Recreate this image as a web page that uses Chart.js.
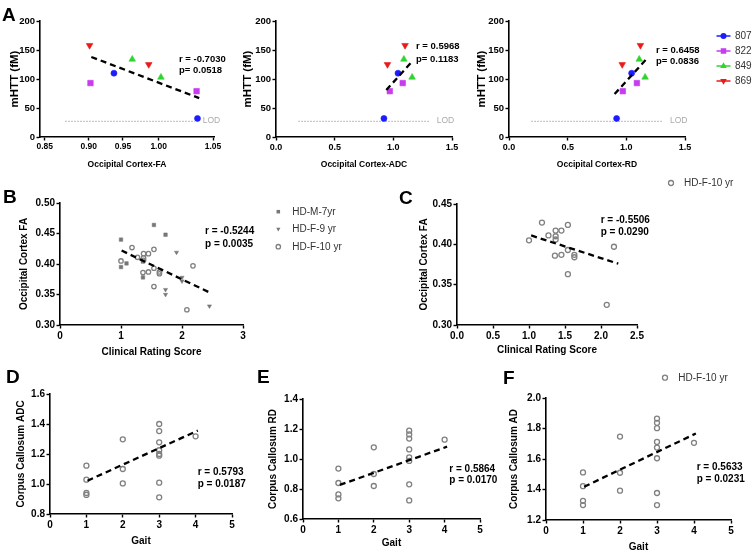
<!DOCTYPE html>
<html><head><meta charset="utf-8">
<script src="https://cdn.jsdelivr.net/npm/chart.js@4.4.0/dist/chart.umd.min.js"></script>
<style>
html,body{margin:0;padding:0;background:#fff;}
#wrap{position:relative;width:753px;height:553px;overflow:hidden;background:#fff;}
canvas{position:absolute;left:0;top:0;}
.t{position:absolute;font-family:Arial,"Liberation Sans",Helvetica,sans-serif;white-space:nowrap;color:#000;}
.let{font-weight:bold;font-size:19px;line-height:19px;}
.ann{font-weight:bold;font-size:10px;line-height:12px;}
.annA{font-weight:bold;font-size:9.5px;line-height:12px;}
.leg{font-size:10px;line-height:12px;color:#333;}
.lod{font-size:8.5px;line-height:10px;color:#aaa;}
</style></head><body><div id="wrap"></div>
<script>
// ---------------- DATA ----------------
const animals = ['807','822','849','869'];
const mhtt807 = [110, 32],  fa807 = [0.935, 1.031], adc807 = [1.04, 0.92], rd807 = [1.045, 0.917];
const mhtt822 = [93, 79],   fa822 = [0.908, 1.030], adc822 = [1.08, 0.97], rd822 = [1.09, 0.97];
const mhtt849 = [134, 103], fa849 = [0.956, 0.989], adc849 = [1.09, 1.16], rd849 = [1.11, 1.16];
const mhtt869 = [158, 125], fa869 = [0.907, 0.975], adc869 = [1.10, 0.95], rd869 = [1.12, 0.965];
const lodValue = 27;
const lodFA = [0.879, 1.028], lodADC = [0.19, 1.31], lodRD = [0.19, 1.31];
const fitFAx = [0.909, 1.033],  fitFAy = [138, 67];
const fitADCx = [0.94, 1.155],  fitADCy = [81, 129];
const fitRDx = [0.90, 1.17],    fitRDy = [74, 134];

// Panel B / C : clinical rating score vs occipital cortex FA
const crsM7 = [1.0, 1.0, 1.09, 1.54, 1.73, 1.36, 1.36];
const faM7  = [0.440, 0.395, 0.401, 0.464, 0.448, 0.378, 0.404];
const crsF9 = [1.91, 1.73, 1.73, 2.0, 2.0, 2.45];
const faF9  = [0.419, 0.358, 0.350, 0.378, 0.372, 0.331];
const crsF10 = [1.0, 1.18, 1.27, 1.37, 1.37, 1.37, 1.45, 1.54, 1.36, 1.45, 1.54, 1.63, 1.63, 1.54, 2.18, 2.08];
const faF10  = [0.405, 0.427, 0.411, 0.417, 0.410, 0.406, 0.417, 0.424, 0.386, 0.387, 0.393, 0.387, 0.384, 0.363, 0.397, 0.325];
const fitBx = [1.01, 2.48], fitBy = [0.422, 0.352];
const fitCx = [1.03, 2.24], fitCy = [0.411, 0.376];

// Panels D/E/F : gait vs corpus callosum
const gaitD = [1,1,1,1, 2,2,2, 3,3,3,3,3,3,3,3, 4];
const ccADC = [1.122,1.029,0.940,0.927, 1.298,1.100,1.004, 1.400,1.353,1.278,1.225,1.200,1.189,1.009,0.911, 1.318];
const gaitE = [1,1,1,1, 2,2,2, 3,3,3,3,3,3,3,3, 4];
const ccRD  = [0.936,0.840,0.764,0.738, 1.078,0.900,0.820, 1.189,1.164,1.136,1.064,1.011,0.987,0.831,0.724, 1.129];
const gaitF = [1,1,1,1, 2,2,2, 3,3,3,3,3,3,3,3, 4];
const ccAD  = [1.512,1.422,1.326,1.298, 1.747,1.510,1.392, 1.865,1.837,1.802,1.712,1.675,1.605,1.377,1.298, 1.706];
const fitDx = [1.03, 4.06], fitDy = [1.022, 1.356];
const fitEx = [1.04, 4.07], fitEy = [0.827, 1.082];
const fitFx = [1.03, 4.05], fitFy = [1.418, 1.767];

// tick labels
const ticksHTT = [0, 50, 100, 150, 200];
const ticksFA = ['0.85', '0.90', '0.95', '1.00', '1.05'];
const ticksFAat = [0.8554, 0.906, 0.9454, 0.9864, 1.0489];   // where the reference prints those labels
const ticksDiff = [0, 0.5, 1.0, 1.5];
const ticksBy = [0.30, 0.35, 0.40, 0.45, 0.50];
const ticksBx = [0, 1, 2, 3];
const ticksCy = [0.30, 0.35, 0.40, 0.45];
const ticksCx = [0, 0.5, 1.0, 1.5, 2.0, 2.5];
const ticksGait = [0, 1, 2, 3, 4, 5];
const ticksDy = [0.8, 1.0, 1.2, 1.4, 1.6];
const ticksEy = [0.6, 0.8, 1.0, 1.2, 1.4];
const ticksFy = [1.2, 1.4, 1.6, 1.8, 2.0];

// ---------------- STYLE ----------------
const FONT = 'Arial, "Liberation Sans", Helvetica, sans-serif';
const COL = {'807':'#1c1cff','822':'#c63cf0','849':'#2fd42f','869':'#e81a1a'};
const GRAY = '#808080';
const wrap = document.getElementById('wrap');

function pts(xs, ys){ return xs.map((x,i)=>({x:x, y:ys[i]})); }
function fitSet(xs, ys){
  return {data:pts(xs,ys), showLine:true, borderColor:'#000', borderWidth:2.3, borderDash:[6,4],
          pointRadius:0, fill:false, order:0};
}
function lodSet(xs){
  return {data:pts(xs,[lodValue,lodValue]), showLine:true, borderColor:'#b8b8b8', borderWidth:1.2,
          borderDash:[1.5,1.5], pointRadius:0, fill:false, order:2};
}
const shape = {
  '807':{pointStyle:'circle', pointRadius:3, pointRotation:0},
  '822':{pointStyle:'rect', pointRadius:3.9, pointRotation:0},
  '849':{pointStyle:'triangle', pointRadius:3.8, pointRotation:0},
  '869':{pointStyle:'triangle', pointRadius:3.8, pointRotation:180}
};
const animalX = {
  fa:{'807':fa807,'822':fa822,'849':fa849,'869':fa869},
  adc:{'807':adc807,'822':adc822,'849':adc849,'869':adc869},
  rd:{'807':rd807,'822':rd822,'849':rd849,'869':rd869}
};
const animalY = {'807':mhtt807,'822':mhtt822,'849':mhtt849,'869':mhtt869};
function animalSets(kind){
  return animals.map(a=>Object.assign({label:a, data:pts(animalX[kind][a], animalY[a]),
    backgroundColor:COL[a], borderColor:COL[a], pointBorderWidth:0.6, order:1}, shape[a]));
}
function hollow(xs, ys, r){
  return {data:pts(xs,ys), pointStyle:'circle', pointRadius:r, backgroundColor:'rgba(255,255,255,0)',
          borderColor:GRAY, pointBorderWidth:1.3, order:1};
}

function drawMarker(ctx, m){
  ctx.save();
  ctx.translate(m.x, m.y);
  ctx.rotate((m.rot||0)*Math.PI/180);
  ctx.beginPath();
  const r = m.r;
  if (m.style==='circle') ctx.arc(0,0,r,0,Math.PI*2);
  else if (m.style==='rect'){ const s=Math.SQRT1_2*r; ctx.rect(-s,-s,2*s,2*s); }
  else if (m.style==='triangle'){
    for (let k=0;k<3;k++){ const a=k*2*Math.PI/3; const px=Math.sin(a)*r, py=-Math.cos(a)*r; if(k===0)ctx.moveTo(px,py); else ctx.lineTo(px,py); }
    ctx.closePath();
  }
  if (m.fill){ ctx.fillStyle=m.fill; ctx.fill(); }
  if (m.stroke){ ctx.strokeStyle=m.stroke; ctx.lineWidth=m.bw||1; ctx.stroke(); }
  ctx.restore();
}
function legendPlugin(items){
  return {id:'legendMarks', afterDraw(chart){
    const ctx = chart.ctx;
    items.forEach(m=>{
      if (m.line){ ctx.save(); ctx.strokeStyle=m.line; ctx.lineWidth=1.5; ctx.beginPath(); ctx.moveTo(m.x-7,m.y); ctx.lineTo(m.x+7,m.y); ctx.stroke(); ctx.restore(); }
      drawMarker(ctx, m);
    });
  }};
}

function panel(o){
  const cv = document.createElement('canvas');
  cv.width = 753; cv.height = 553;
  cv.style.width = '753px'; cv.style.height = '553px';
  wrap.appendChild(cv);
  const lhY = o.yTitleSize*1.2, lhX = o.xTitleSize*1.2;
  const padL = o.yTitleX - lhY/2;
  const wy = o.L - padL;
  const hx = o.xTitleY + lhX/2 - o.B;
  const tickFont = {family:FONT, size:o.tickSize, weight:'bold'};
  const grid = {display:true, drawOnChartArea:false, drawTicks:true, tickLength:3.5, tickWidth:1.4, tickColor:'#000', color:'#000'};
  const border = {display:true, color:'#000', width:1.6};
  const xAt = o.xTickAt || o.xTicks;
  return new Chart(cv, {
    type:'scatter',
    data:{datasets:o.datasets},
    options:{
      responsive:false, animation:false, devicePixelRatio:1,
      layout:{padding:{left:padL, top:o.T, right:753-o.R, bottom:553-o.B-hx}},
      plugins:{legend:{display:false}, tooltip:{enabled:false}},
      scales:{
        x:{type:'linear', min:o.xMin, max:o.xMax,
           afterFit:s=>{s.height=hx;},
           afterBuildTicks:s=>{s.ticks=xAt.map(v=>({value:v}));},
           ticks:{font:{family:FONT, size:o.xTickSize||o.tickSize, weight:'bold'}, color:'#000', padding:1.5, autoSkip:false, maxRotation:0, minRotation:0,
                  callback:(v,i)=>o.xFmt(o.xTicks[i])},
           grid:grid, border:border,
           title:{display:true, text:o.xTitle, color:'#000', font:{family:FONT, size:o.xTitleSize, weight:'bold'}, padding:0}},
        y:{type:'linear', min:o.yMin, max:o.yMax,
           afterFit:s=>{s.width=wy;},
           afterBuildTicks:s=>{s.ticks=o.yTicks.map(v=>({value:v}));},
           ticks:{font:tickFont, color:'#000', padding:1.5, autoSkip:false, callback:(v)=>o.yFmt(v)},
           grid:grid, border:border,
           title:{display:true, text:o.yTitle, color:'#000', font:{family:FONT, size:o.yTitleSize, weight:'bold'}, padding:0}}
      }
    },
    plugins: o.legend ? [legendPlugin(o.legend)] : []
  });
}
const f0 = v=>String(Math.round(v));
const f1 = v=>v.toFixed(1);
const f2 = v=>v.toFixed(2);
const fs = v=>String(v);

// ---------------- PANEL A ----------------
panel({L:40, R:214, T:21, B:137, yTitleX:14.5, xTitleY:164.3, xMin:0.85, xMax:1.05, xTicks:ticksFA, xTickAt:ticksFAat, xFmt:fs,
  yMin:0, yMax:200, yTicks:ticksHTT, yFmt:f0, xTitle:'Occipital Cortex-FA', yTitle:'mHTT (fM)',
  xTitleSize:8.5, yTitleSize:11.5, tickSize:9.5, xTickSize:8.5,
  datasets:[fitSet(fitFAx,fitFAy), lodSet(lodFA)].concat(animalSets('fa'))});
panel({L:276, R:452, T:21, B:137, yTitleX:248, xTitleY:164.3, xMin:0, xMax:1.5, xTicks:ticksDiff, xFmt:f1,
  yMin:0, yMax:200, yTicks:ticksHTT, yFmt:f0, xTitle:'Occipital Cortex-ADC', yTitle:'mHTT (fM)',
  xTitleSize:8.5, yTitleSize:11.5, tickSize:9.5, xTickSize:9,
  datasets:[fitSet(fitADCx,fitADCy), lodSet(lodADC)].concat(animalSets('adc'))});
panel({L:509, R:685, T:21, B:137, yTitleX:482, xTitleY:165, xMin:0, xMax:1.5, xTicks:ticksDiff, xFmt:f1,
  yMin:0, yMax:200, yTicks:ticksHTT, yFmt:f0, xTitle:'Occipital Cortex-RD', yTitle:'mHTT (fM)',
  xTitleSize:8.5, yTitleSize:11.5, tickSize:9.5, xTickSize:9,
  datasets:[fitSet(fitRDx,fitRDy), lodSet(lodRD)].concat(animalSets('rd')),
  legend:[
    {x:723.5, y:36, style:'circle', r:3, fill:COL['807'], line:COL['807']},
    {x:723.5, y:51, style:'rect', r:3.9, fill:COL['822'], line:COL['822']},
    {x:723.5, y:66, style:'triangle', r:3.8, fill:COL['849'], line:COL['849']},
    {x:723.5, y:81, style:'triangle', r:3.8, rot:180, fill:COL['869'], line:COL['869']}
  ]});

// ---------------- PANEL B ----------------
panel({L:60, R:243, T:203, B:325, yTitleX:24.5, xTitleY:352.5, xMin:0, xMax:3, xTicks:ticksBx, xFmt:f0,
  yMin:0.30, yMax:0.50, yTicks:ticksBy, yFmt:f2, xTitle:'Clinical Rating Score', yTitle:'Occipital Cortex FA',
  xTitleSize:10, yTitleSize:10, tickSize:10,
  datasets:[fitSet(fitBx,fitBy),
    {data:pts(crsM7,faM7), pointStyle:'rect', pointRadius:2.5, backgroundColor:'#777', borderColor:'#777', pointBorderWidth:0.5, order:1},
    {data:pts(crsF9,faF9), pointStyle:'triangle', pointRotation:180, pointRadius:2.4, backgroundColor:'#777', borderColor:'#777', pointBorderWidth:0.5, order:1},
    hollow(crsF10, faF10, 2.2)],
  legend:[
    {x:278.3, y:211.7, style:'rect', r:2.5, fill:'#777'},
    {x:278.3, y:229, style:'triangle', r:2.4, rot:180, fill:'#777'},
    {x:278.3, y:246.7, style:'circle', r:2.2, stroke:GRAY, bw:1.3}
  ]});

// ---------------- PANEL C ----------------
panel({L:457, R:637, T:204, B:325, yTitleX:424, xTitleY:350, xMin:0, xMax:2.5, xTicks:ticksCx, xFmt:f1,
  yMin:0.30, yMax:0.45, yTicks:ticksCy, yFmt:f2, xTitle:'Clinical Rating Score', yTitle:'Occipital Cortex FA',
  xTitleSize:10, yTitleSize:10, tickSize:10,
  datasets:[fitSet(fitCx,fitCy), hollow(crsF10, faF10, 2.5)],
  legend:[{x:671, y:183, style:'circle', r:2.5, stroke:GRAY, bw:1.3}]});

// ---------------- PANELS D, E, F ----------------
panel({L:50, R:232, T:394, B:514, yTitleX:21, xTitleY:541.3, xMin:0, xMax:5, xTicks:ticksGait, xFmt:f0,
  yMin:0.8, yMax:1.6, yTicks:ticksDy, yFmt:f1, xTitle:'Gait', yTitle:'Corpus Callosum ADC',
  xTitleSize:10, yTitleSize:10, tickSize:10,
  datasets:[fitSet(fitDx,fitDy), hollow(gaitD, ccADC, 2.5)]});
panel({L:303, R:480, T:399, B:519, yTitleX:273.7, xTitleY:543, xMin:0, xMax:5, xTicks:ticksGait, xFmt:f0,
  yMin:0.6, yMax:1.4, yTicks:ticksEy, yFmt:f1, xTitle:'Gait', yTitle:'Corpus Callosum RD',
  xTitleSize:10, yTitleSize:10, tickSize:10,
  datasets:[fitSet(fitEx,fitEy), hollow(gaitE, ccRD, 2.5)]});
panel({L:546, R:731, T:398, B:520, yTitleX:514.5, xTitleY:547, xMin:0, xMax:5, xTicks:ticksGait, xFmt:f0,
  yMin:1.2, yMax:2.0, yTicks:ticksFy, yFmt:f1, xTitle:'Gait', yTitle:'Corpus Callosum AD',
  xTitleSize:10, yTitleSize:10, tickSize:10,
  datasets:[fitSet(fitFx,fitFy), hollow(gaitF, ccAD, 2.5)],
  legend:[{x:665, y:377.7, style:'circle', r:2.5, stroke:GRAY, bw:1.3}]});

// ---------------- TEXT ----------------
function txt(cls, s, left, top){
  const d = document.createElement('div'); d.className = 't '+cls; d.textContent = s;
  d.style.left = left+'px'; d.style.top = top+'px'; wrap.appendChild(d);
}
const letters = [['A',2,5],['B',3,187],['C',399,187.5],['D',6,367],['E',257,367],['F',503,367.5]];
letters.forEach(l=>txt('let', l[0], l[1], l[2]));
const annotsA = [
  ['r = -0.7030', 179, 52.7], ['p= 0.0518', 179, 63.7],
  ['r = 0.5968', 416, 40.4], ['p= 0.1183', 416, 52.7],
  ['r = 0.6458', 656, 43.7], ['p= 0.0836', 656, 55]
];
annotsA.forEach(a=>txt('annA', a[0], a[1], a[2]));
const annots = [
  ['r = -0.5244', 205, 225.4], ['p = 0.0035', 205, 237.7],
  ['r = -0.5506', 600.7, 214.4], ['p = 0.0290', 600.7, 226],
  ['r = 0.5793', 197.7, 466], ['p = 0.0187', 197.7, 477.7],
  ['r = 0.5864', 449.3, 462.7], ['p = 0.0170', 449.3, 473.7],
  ['r = 0.5633', 696.7, 461], ['p = 0.0231', 696.7, 472.7]
];
annots.forEach(a=>txt('ann', a[0], a[1], a[2]));
[[202.7,114.5],[436.7,114.5],[670,114.5]].forEach(p=>txt('lod','LOD',p[0],p[1]));
animals.forEach((a,i)=>txt('leg', a, 735, [36,51,66,81][i]-6));
[['HD-M-7yr',211.7],['HD-F-9 yr',229],['HD-F-10 yr',246.7]].forEach(l=>txt('leg', l[0], 292.3, l[1]-6));
txt('leg','HD-F-10 yr', 684, 183-6);
txt('leg','HD-F-10 yr', 678.3, 377.7-6);
</script></body></html>
